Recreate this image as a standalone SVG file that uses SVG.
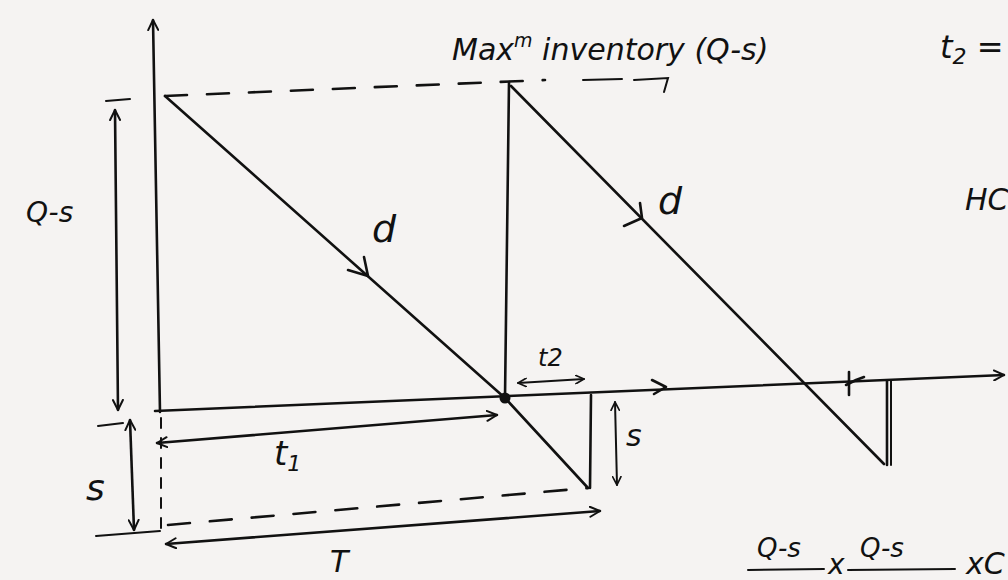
<svg xmlns="http://www.w3.org/2000/svg" width="1008" height="580" viewBox="0 0 1008 580">
<defs>
<marker id="ah" viewBox="0 0 12 12" refX="11" refY="6" markerWidth="12" markerHeight="12" markerUnits="userSpaceOnUse" orient="auto-start-reverse">
<path d="M1,1 L11,6 L1,11" fill="none" stroke="#111" stroke-width="2" stroke-linecap="round" stroke-linejoin="round"/>
</marker>
<marker id="ahs" viewBox="0 0 12 12" refX="11" refY="6" markerWidth="10" markerHeight="10" markerUnits="userSpaceOnUse" orient="auto-start-reverse">
<path d="M1,1 L11,6 L1,11" fill="none" stroke="#111" stroke-width="2" stroke-linecap="round" stroke-linejoin="round"/>
</marker>
</defs>
<style>
.ln{fill:none;stroke:#111;stroke-width:2.6;stroke-linecap:round;stroke-linejoin:round}
.th{fill:none;stroke:#111;stroke-width:2;stroke-linecap:round}
.ds{fill:none;stroke:#111;stroke-width:2.6;stroke-dasharray:22 20;stroke-linecap:round}
.dd{fill:none;stroke:#111;stroke-width:2;stroke-dasharray:10 10;stroke-linecap:round}
.tx{font-family:"DejaVu Sans","Liberation Sans",sans-serif;fill:#111;font-style:italic}
</style>
<rect width="1008" height="580" fill="#f5f3f2"/>

<g id="axes">
<path class="ln" d="M160,412 L153,20" marker-end="url(#ah)"/>
<path class="ln" d="M155,411 L1004,375" marker-end="url(#ah)"/>
</g>

<g id="connectors">
<path class="ds" d="M165,96 L545,80"/>
<path class="th" d="M583,80 L622,79"/>
<path class="th" d="M634,80 L668,78 L664,92"/>
<path class="ln" d="M165,96 L505,398 L588,488"/>
<path class="ln" d="M509,82 L505,398"/>
<path class="ln" d="M590,488 L591,395"/>
<path class="ln" d="M511,86 L884,464"/>
<path class="ln" d="M887,465 L887,381"/>
<path class="th" d="M891,465 L891,381"/>
<path class="ds" d="M168,525 L588,488"/>
<path class="dd" d="M161,418 L161,530"/>
<path class="ln" d="M348,270 L368,276 L364,257"/>
<path class="ln" d="M624,226 L642,218 L640,203"/>
<path class="ln" d="M652,380 L666,387 L654,394"/>
<path class="ln" d="M849,372 L849,395"/>
<path class="ln" d="M846,385 L856,380 L864,377"/>
<path class="th" d="M106,101 L130,99"/>
<path class="ln" d="M115,110 L118,410" marker-start="url(#ah)" marker-end="url(#ah)"/>
<path class="th" d="M98,426 L123,423"/>
<path class="ln" d="M130,420 L134,530" marker-start="url(#ah)" marker-end="url(#ah)"/>
<path class="th" d="M96,536 L160,531"/>
<path class="ln" d="M157,443 L497,415" marker-start="url(#ah)" marker-end="url(#ah)"/>
<path class="ln" d="M166,544 L600,511" marker-start="url(#ah)" marker-end="url(#ah)"/>
<path class="th" d="M518,383 L584,379" marker-start="url(#ahs)" marker-end="url(#ahs)"/>
<path class="th" d="M615,402 L617,485" marker-start="url(#ahs)" marker-end="url(#ahs)"/>
<circle cx="505" cy="398" r="5.5" fill="#111"/>
</g>

<g id="labels">
<text class="tx" x="452" y="60" font-size="30">Max<tspan font-size="19" dy="-13">m</tspan><tspan dy="13"> inventory (Q-s)</tspan></text>
<text class="tx" x="940" y="58" font-size="32">t<tspan font-size="22" dy="6">2</tspan><tspan dy="-6"> =</tspan></text>
<text class="tx" x="965" y="210" font-size="30">HC</text>
<text class="tx" x="26" y="222" font-size="28">Q-s</text>
<text class="tx" x="372" y="242" font-size="38">d</text>
<text class="tx" x="658" y="214" font-size="38">d</text>
<text class="tx" x="538" y="366" font-size="24">t2</text>
<text class="tx" x="274" y="465" font-size="34">t<tspan font-size="22" dy="6">1</tspan></text>
<text class="tx" x="86" y="500" font-size="36">s</text>
<text class="tx" x="626" y="446" font-size="30">s</text>
<text class="tx" x="330" y="572" font-size="30">T</text>
<text class="tx" x="757" y="557" font-size="26">Q-s</text>
<path class="th" d="M748,570 L824,569"/>
<text class="tx" x="828" y="574" font-size="28">x</text>
<text class="tx" x="860" y="557" font-size="26">Q-s</text>
<path class="th" d="M848,570 L955,569"/>
<text class="tx" x="966" y="574" font-size="30">xC</text>
</g>
</svg>
